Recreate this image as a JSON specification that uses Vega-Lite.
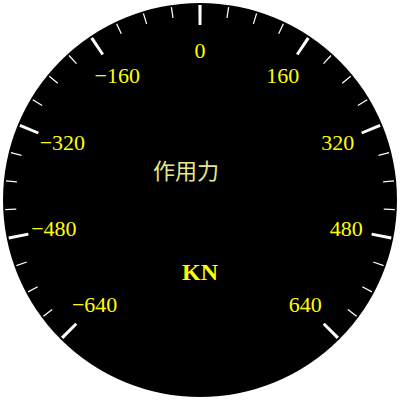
{
  "$schema": "https://vega.github.io/schema/vega-lite/v6.json",
  "width": 400,
  "height": 400,
  "padding": 0,
  "autosize": {"type": "none"},
  "background": "white",
  "view": {"stroke": null},
  "datasets": {
    "ticks": [
      {"value": -640, "kind": "major"}, {"value": -600, "kind": "minor"}, {"value": -560, "kind": "minor"}, {"value": -520, "kind": "minor"},
      {"value": -480, "kind": "major"}, {"value": -440, "kind": "minor"}, {"value": -400, "kind": "minor"}, {"value": -360, "kind": "minor"},
      {"value": -320, "kind": "major"}, {"value": -280, "kind": "minor"}, {"value": -240, "kind": "minor"}, {"value": -200, "kind": "minor"},
      {"value": -160, "kind": "major"}, {"value": -120, "kind": "minor"}, {"value": -80, "kind": "minor"}, {"value": -40, "kind": "minor"},
      {"value": 0, "kind": "major"}, {"value": 40, "kind": "minor"}, {"value": 80, "kind": "minor"}, {"value": 120, "kind": "minor"},
      {"value": 160, "kind": "major"}, {"value": 200, "kind": "minor"}, {"value": 240, "kind": "minor"}, {"value": 280, "kind": "minor"},
      {"value": 320, "kind": "major"}, {"value": 360, "kind": "minor"}, {"value": 400, "kind": "minor"}, {"value": 440, "kind": "minor"},
      {"value": 480, "kind": "major"}, {"value": 520, "kind": "minor"}, {"value": 560, "kind": "minor"}, {"value": 600, "kind": "minor"},
      {"value": 640, "kind": "major"}
    ]
  },
  "layer": [
    {
      "data": {"values": [{"face": "dial"}]},
      "mark": {"type": "arc", "theta": 0, "theta2": 6.2832, "radius": 197, "fill": "black"},
      "encoding": {}
    },
    {
      "data": {"name": "ticks"},
      "transform": [{"filter": "datum.kind === 'minor'"}],
      "mark": {"type": "arc", "radius": 195, "radius2": 184, "thetaOffset": -0.0033, "theta2Offset": 0.0033, "fill": "white"},
      "encoding": {
        "theta": {"field": "value", "type": "quantitative", "stack": null, "scale": {"domain": [-640, 640], "range": [-2.35619, 2.35619]}},
        "theta2": {"field": "value"}
      }
    },
    {
      "data": {"name": "ticks"},
      "transform": [{"filter": "datum.kind === 'major'"}],
      "mark": {"type": "arc", "radius": 195, "radius2": 175, "thetaOffset": -0.0082, "theta2Offset": 0.0082, "fill": "white"},
      "encoding": {
        "theta": {"field": "value", "type": "quantitative", "stack": null, "scale": {"domain": [-640, 640], "range": [-2.35619, 2.35619]}},
        "theta2": {"field": "value"}
      }
    },
    {
      "data": {"name": "ticks"},
      "transform": [{"filter": "datum.kind === 'major'"}],
      "mark": {"type": "text", "radius": 149, "font": "Liberation Serif", "fontSize": 22, "fill": "#FFFF00", "align": "center", "baseline": "middle"},
      "encoding": {
        "theta": {"field": "value", "type": "quantitative", "stack": null, "scale": {"domain": [-640, 640], "range": [-2.35619, 2.35619]}},
        "text": {"field": "value", "type": "quantitative", "format": "d"}
      }
    },
    {
      "data": {"values": [{"caption": "作用力"}]},
      "mark": {"type": "text", "font": "Noto Sans CJK SC", "fontSize": 22, "fill": "#E8E88A", "align": "center", "baseline": "middle", "dx": -14, "dy": -28},
      "encoding": {"text": {"field": "caption"}}
    },
    {
      "data": {"values": [{"caption": "KN"}]},
      "mark": {"type": "text", "font": "Liberation Serif", "fontWeight": "bold", "fontSize": 24, "fill": "#FFFF00", "align": "center", "baseline": "middle", "dx": 0, "dy": 73},
      "encoding": {"text": {"field": "caption"}}
    }
  ]
}
